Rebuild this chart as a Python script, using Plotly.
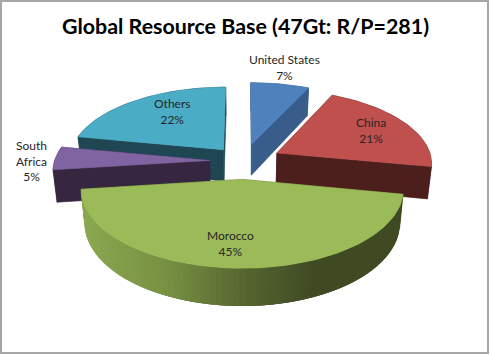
import numpy as np
import plotly.graph_objects as go

# ---- data ----
categories = ["United States", "China", "Morocco", "South<br>Africa", "Others"]
shares = [7, 21, 45, 5, 22]
title_text = "Global Resource Base (47Gt: R/P=281)"

# ---- style ----
top_colors = ["#4F81BD", "#C0504D", "#9BBB59", "#8064A2", "#4BACC6"]
side_colors = ["#385D8A", "#4D1F1C", None, "#36263F", "#1F4653"]
explode = [38.0, 38.0, 38.0, 34.0, 32.0]
draw_order = [4, 0, 1, 3, 2]
label_pos = [(284, 67), (371, 130), (230, 243), (31, 161), (172, 111)]
FONT = "Lato, Carlito, Calibri, sans-serif"

# ---- projection of a tilted, exploded pie onto the pixel-scaled axes ----
X0, Y0 = 243.5, 161.0
RADIUS, TILT, PERSP, DEPTH, NARROW = 155.0, 0.47, 0.0008, 32.0, 1.022


def project(X, Y, bottom=False):
    s = 1 + PERSP * Y
    x = X0 + X / s / (NARROW if bottom else 1.0)
    y = Y0 - TILT * Y / s + (DEPTH / s if bottom else 0.0)
    return x, y


def lerp_color(c0, c1, t):
    return "rgb(" + ",".join(str(int(round(a + (b - a) * t))) for a, b in zip(c0, c1)) + ")"


def morocco_side(x):
    stops = [(82, (140, 168, 80)), (170, (118, 143, 66)), (245, (86, 101, 48)), (315, (63, 74, 35)), (410, (63, 74, 35))]
    for (x0, c0), (x1, c1) in zip(stops, stops[1:]):
        if x <= x1:
            return lerp_color(c0, c1, max(0.0, (x - x0) / (x1 - x0)))
    return lerp_color(stops[-1][1], stops[-1][1], 0)


total = sum(shares)
edges = np.cumsum([0] + shares) / total * 2 * np.pi
fig = go.Figure()


def poly(xs, ys, color, edge=0.6):
    fig.add_trace(go.Scatter(x=list(xs), y=list(ys), mode="lines", fill="toself", fillcolor=color,
                             line=dict(color=color, width=edge), hoverinfo="skip", showlegend=False))


for i in draw_order:
    a0, a1 = edges[i], edges[i + 1]
    mid = (a0 + a1) / 2
    ox, oy = explode[i] * np.sin(mid), explode[i] * np.cos(mid)
    ang = np.linspace(a0, a1, max(8, int(shares[i] * 2)))
    PX = ox + RADIUS * np.sin(ang)
    PY = oy + RADIUS * np.cos(ang)
    tx, ty = project(PX, PY)
    bx, by = project(PX, PY, bottom=True)
    ax, ay = project(ox, oy)
    abx, aby = project(ox, oy, bottom=True)
    side = side_colors[i]
    # the two cut faces
    for j in (0, -1):
        poly([ax, tx[j], bx[j], abx, ax], [ay, ty[j], by[j], aby, ay], side or "rgb(90,105,50)")
    # outer rim
    if side:
        poly(list(tx) + list(bx[::-1]), list(ty) + list(by[::-1]), side)
    else:
        a_fine = np.linspace(a0, a1, 90)
        FX, FY = ox + RADIUS * np.sin(a_fine), oy + RADIUS * np.cos(a_fine)
        fx, fy = project(FX, FY)
        gx, gy = project(FX, FY, bottom=True)
        # each band is overlapped by the next one, so no seams show
        for k in range(len(a_fine) - 1):
            e = min(k + 3, len(a_fine) - 1)
            poly(list(fx[k:e + 1]) + list(gx[k:e + 1][::-1]), list(fy[k:e + 1]) + list(gy[k:e + 1][::-1]),
                 morocco_side((fx[k] + fx[k + 1]) / 2), edge=0)
    # top surface
    poly([ax] + list(tx) + [ax], [ay] + list(ty) + [ay], top_colors[i])

for name, v, (lx, ly) in zip(categories, shares, label_pos):
    fig.add_annotation(x=lx, y=ly, xref="x", yref="y", showarrow=False, align="center",
                       text=f"{name}<br>{v}%", font=dict(family=FONT, size=12, color="#262626"))

fig.add_annotation(x=245, y=26, xref="x", yref="y", showarrow=False, text=f"<b>{title_text}</b>",
                   font=dict(family=FONT, size=21.4, color="#000000"))

fig.update_layout(
    width=490, height=355, margin=dict(l=0, r=0, t=0, b=0),
    paper_bgcolor="white", plot_bgcolor="white", showlegend=False,
    xaxis=dict(range=[0, 490], visible=False, fixedrange=True),
    yaxis=dict(range=[355, 0], visible=False, fixedrange=True),
    shapes=[dict(type="rect", xref="x", yref="y", x0=1, y0=1, x1=488, y1=353,
                 line=dict(color="#A6A6A6", width=2), fillcolor="rgba(0,0,0,0)")],
)
fig.write_html("out.html", config={"displayModeBar": False},
               post_script="document.body.style.margin='0';")
